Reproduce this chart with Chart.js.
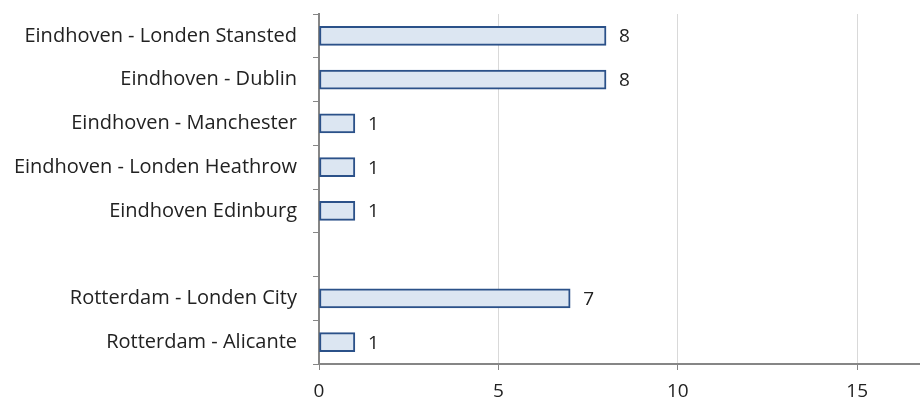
<!DOCTYPE html>
<html>
<head>
<meta charset="utf-8">
<script src="https://cdn.jsdelivr.net/npm/chart.js@4"></script>
<style>
  html, body { margin: 0; padding: 0; background: #fff; }
  #wrap { width: 920px; height: 401px; }
</style>
</head>
<body>
<div id="wrap"><canvas id="routeChart"></canvas></div>
<script>
// Routes (empty string = gap row between airports)
const routes = [
    'Eindhoven - Londen Stansted',
    'Eindhoven - Dublin',
    'Eindhoven - Manchester',
    'Eindhoven - Londen Heathrow',
    'Eindhoven Edinburg',
    '',
    'Rotterdam - Londen City',
    'Rotterdam - Alicante'
];
const counts = [8, 8, 1, 1, 1, null, 7, 1];
const xTicks = [0, 5, 10, 15];

const FONT = "'Open Sans', Lato, sans-serif";

// Draw the value next to the end of each bar
const valueLabels = {
    id: 'valueLabels',
    afterDatasetsDraw(chart) {
        const ctx = chart.ctx;
        const meta = chart.getDatasetMeta(0);
        ctx.save();
        ctx.font = `19px ${FONT}`;
        ctx.fillStyle = '#222';
        ctx.textAlign = 'left';
        ctx.textBaseline = 'middle';
        meta.data.forEach((bar, i) => {
            const v = counts[i];
            if (v === null || v === undefined) return;
            ctx.fillText(String(v), bar.x + 13, bar.y + 1);
        });
        ctx.restore();
    }
};

const ctx = document.getElementById('routeChart').getContext('2d');
new Chart(ctx, {
    type: 'bar',
    data: {
        labels: routes,
        datasets: [{
            data: counts,
            backgroundColor: '#dce6f2',
            borderColor: '#2b5189',
            borderWidth: 2,
            borderSkipped: false,
            barThickness: 19
        }]
    },
    options: {
        indexAxis: 'y',
        responsive: true,
        maintainAspectRatio: false,
        animation: false,
        layout: { padding: { top: 14, right: 0, left: 0, bottom: 0 } },
        plugins: {
            legend: { display: false },
            tooltip: { enabled: false }
        },
        scales: {
            x: {
                min: 0,
                max: 16.75,
                afterBuildTicks: axis => {
                    axis.ticks = xTicks.map(v => ({ value: v }));
                },
                afterFit: scale => {
                    scale.height = 37;
                    scale.paddingLeft = 0;
                    scale.paddingRight = 0;
                },
                grid: {
                    color: ctx => ctx.tick && ctx.tick.value === 0 ? 'rgba(0,0,0,0)' : '#d9d9d9',
                    tickColor: '#868686',
                    tickLength: 6,
                    lineWidth: 1
                },
                border: { color: '#868686', width: 2 },
                ticks: {
                    color: '#222',
                    font: { family: FONT, size: 19 },
                    padding: 10,
                    maxRotation: 0
                }
            },
            y: {
                afterFit: scale => {
                    scale.width = 319;
                    scale.paddingTop = 0;
                    scale.paddingBottom = 0;
                },
                grid: {
                    offset: true,
                    drawOnChartArea: false,
                    color: '#868686',
                    tickLength: 6
                },
                border: { color: '#868686', width: 2 },
                ticks: {
                    color: '#222',
                    font: { family: FONT, size: 20 },
                    padding: 16,
                    autoSkip: false
                }
            }
        }
    },
    plugins: [valueLabels]
});
</script>
</body>
</html>
